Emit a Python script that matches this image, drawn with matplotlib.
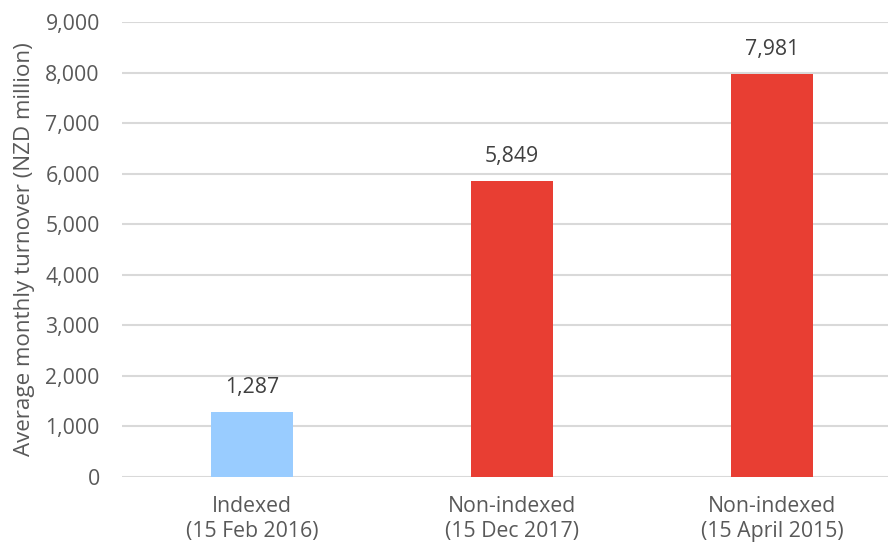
import matplotlib
matplotlib.use("Agg")
import matplotlib.pyplot as plt
from matplotlib.ticker import FuncFormatter, MultipleLocator

categories = ["Indexed\n(15 Feb 2016)", "Non-indexed\n(15 Dec 2017)", "Non-indexed\n(15 April 2015)"]
turnover = [1287, 5849, 7981]
bar_colors = ["#99ccff", "#e83e33", "#e83e33"]
y_label = "Average monthly turnover (NZD million)"

plt.rcParams["font.family"] = ["Open Sans", "DejaVu Sans"]
text_color = "#595959"
grid_color = "#d9d9d9"
fs = 15.3

fig = plt.figure(figsize=(8.88, 5.5), dpi=100)
ax = fig.add_axes([122 / 888, 1 - 477 / 550, 1 - 122 / 888, 455 / 550])

x = range(len(categories))
bars = ax.bar(x, turnover, width=0.315, color=bar_colors, zorder=3)

for rect, v in zip(bars, turnover):
    ax.annotate(f"{v:,}", (rect.get_x() + rect.get_width() / 2, v),
                xytext=(0, 10), textcoords="offset points",
                ha="center", va="bottom", fontsize=fs, color="#404040")

ax.set_xlim(-0.5, 2.5 - 14 / 260)
ax.set_ylim(0, 9000)
ax.yaxis.set_major_locator(MultipleLocator(1000))
ax.yaxis.set_major_formatter(FuncFormatter(lambda v, p: f"{int(v):,}"))
ax.grid(axis="y", color=grid_color, linewidth=1.5, zorder=0)
ax.set_axisbelow(True)

for s in ax.spines.values():
    s.set_visible(False)

ax.set_xticks(list(x))
ax.set_xticklabels(categories, fontsize=fs, color=text_color, linespacing=1.2)
ax.tick_params(axis="both", length=0, labelsize=fs, colors=text_color)
ax.tick_params(axis="x", pad=14)
ax.tick_params(axis="y", pad=16)
ax.set_ylabel(y_label, fontsize=16.1, color=text_color)
ax.yaxis.set_label_coords(-0.113, 0.50)

fig.savefig("out.png", dpi=100)
